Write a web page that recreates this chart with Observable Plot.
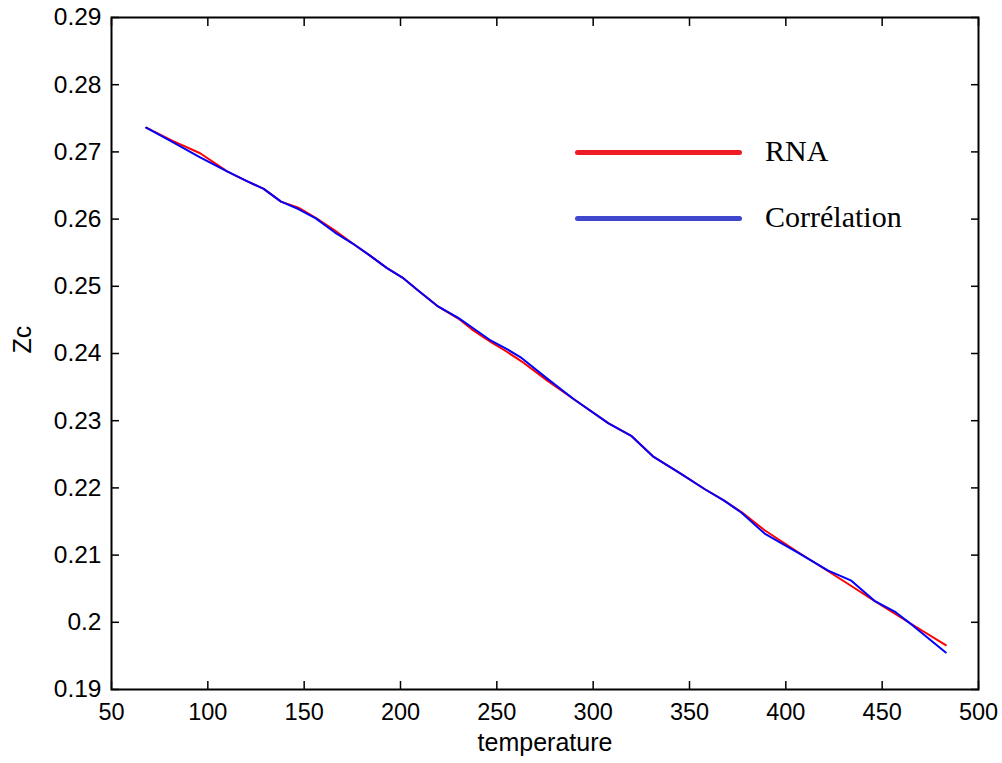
<!DOCTYPE html>
<html>
<head>
<meta charset="utf-8">
<script src="https://cdn.jsdelivr.net/npm/d3@7"></script>
<script src="https://cdn.jsdelivr.net/npm/@observablehq/plot@0.6"></script>
<style>
  html, body { margin: 0; padding: 0; background: #fff; }
  #wrap { position: relative; width: 1002px; height: 763px; }
  .leg { position: absolute; font-family: "Liberation Serif", "Times New Roman", serif; font-size: 30px; color: #000; white-space: nowrap; }
  .legline { position: absolute; height: 5px; border-radius: 3px; }
</style>
</head>
<body>
<div id="wrap"></div>
<script>
// Temperatures (shared by both series)
const temperature = [68, 82, 96, 110, 120, 129, 138, 147, 156, 166, 175, 184, 193, 201, 209, 219, 230, 237, 247, 255, 263, 276, 290, 308, 320, 331, 345, 358, 368, 377, 389, 406, 422, 434, 446, 457, 466, 483];
// RNA (red)
const zcRNA = [0.2736, 0.2716, 0.2698, 0.2671, 0.2657, 0.2645, 0.2626, 0.2617, 0.2602, 0.2583, 0.2564, 0.2546, 0.2527, 0.2513, 0.2494, 0.2471, 0.2452, 0.2436, 0.2417, 0.2403, 0.2388, 0.2360, 0.2332, 0.2296, 0.2277, 0.2247, 0.2222, 0.2198, 0.2181, 0.2164, 0.2137, 0.2105, 0.2076, 0.2054, 0.2032, 0.2012, 0.1996, 0.1966];
// Corrélation (blue)
const zcCorr = [0.2736, 0.2714, 0.2692, 0.2671, 0.2657, 0.2645, 0.2626, 0.2615, 0.2601, 0.2580, 0.2564, 0.2546, 0.2527, 0.2513, 0.2494, 0.2471, 0.2453, 0.2439, 0.2419, 0.2407, 0.2393, 0.2363, 0.2332, 0.2296, 0.2277, 0.2247, 0.2222, 0.2198, 0.2181, 0.2163, 0.2132, 0.2104, 0.2077, 0.2062, 0.2032, 0.2015, 0.1995, 0.1955];

const xTicks = [50, 100, 150, 200, 250, 300, 350, 400, 450, 500];
const yTicks = [0.19, 0.2, 0.21, 0.22, 0.23, 0.24, 0.25, 0.26, 0.27, 0.28, 0.29];
const seriesNames = ["RNA", "Corrélation"];
const xTitle = "temperature";
const yTitle = "Zc";
const lineColors = ["#ff0000", "#0000ff"];
const legendColors = ["#ee1c25", "#3f48cc"];

const rna = temperature.map((t, i) => ({t, z: zcRNA[i]}));
const corr = temperature.map((t, i) => ({t, z: zcCorr[i]}));

const fmtY = d => String(+d.toFixed(2));

const chart = Plot.plot({
  width: 1002,
  height: 763,
  marginLeft: 111,
  marginRight: 24,
  marginTop: 17,
  marginBottom: 74,
  style: { fontFamily: "'Liberation Sans', Arial, sans-serif", fontSize: "24px", color: "#000", background: "#fff" },
  x: { domain: [50, 500] },
  y: { domain: [0.19, 0.29] },
  marks: [
    Plot.axisX(xTicks, { anchor: "bottom", tickSize: -8, tickPadding: 22, strokeWidth: 1.5, fontSize: 23.5, label: null }),
    Plot.axisX(xTicks, { anchor: "top", tickSize: -8, strokeWidth: 1.5, tickFormat: () => "", label: null }),
    Plot.axisY(yTicks, { anchor: "left", tickSize: -8, tickPadding: 18, strokeWidth: 1.5, fontSize: 24.5, tickFormat: fmtY, label: null }),
    Plot.axisY(yTicks, { anchor: "right", tickSize: -8, strokeWidth: 1.5, tickFormat: () => "", label: null }),
    Plot.text([xTitle], { frameAnchor: "bottom", dy: 61, fontSize: 25, text: d => d }),
    Plot.text([yTitle], { frameAnchor: "left", dx: -89, rotate: -90, fontSize: 25, text: d => d }),
    Plot.line(rna, { x: "t", y: "z", stroke: lineColors[0], strokeWidth: 2 }),
    Plot.line(corr, { x: "t", y: "z", stroke: lineColors[1], strokeWidth: 2 }),
    Plot.frame({ stroke: "#000", strokeWidth: 2 })
  ]
});

const wrap = document.getElementById("wrap");
wrap.appendChild(chart);

// Legend (inside the plot area, top right)
const legendTop = [152, 218];
seriesNames.forEach((name, i) => {
  const ln = document.createElement("div");
  ln.className = "legline";
  ln.style.left = "575px";
  ln.style.width = "167px";
  ln.style.top = (legendTop[i] - 2.5) + "px";
  ln.style.background = legendColors[i];
  wrap.appendChild(ln);
  const tx = document.createElement("div");
  tx.className = "leg";
  tx.textContent = name;
  tx.style.left = "765px";
  tx.style.top = (legendTop[i] - 19) + "px";
  tx.style.lineHeight = "36px";
  wrap.appendChild(tx);
});
</script>
</body>
</html>
